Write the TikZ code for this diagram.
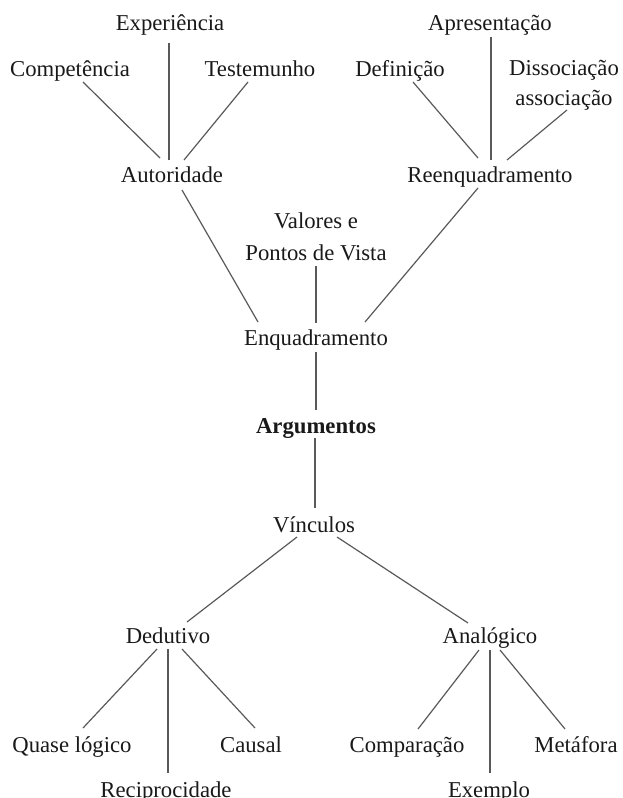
\documentclass[tikz,border=0pt]{standalone}
\usepackage{fontspec}
\setmainfont{Liberation Serif}
\begin{document}
\begin{tikzpicture}[x=1pt,y=-1pt,
  lbl/.style={anchor=base,inner sep=0pt,font=\fontsize{22.7}{31}\selectfont,text=black!90},
  ml/.style={lbl,align=center},
  conn/.style={draw=black!65,line width=1.2pt}]
\useasboundingbox (0,0) rectangle (622,798);
% top left
\node[lbl] (exp) at (170,30) {Experiência};
\node[lbl] (comp) at (70,76) {Competência};
\node[lbl] (test) at (260,76) {Testemunho};
\node[lbl] (aut) at (172,182) {Autoridade};
% top right
\node[lbl] (apr) at (490,30) {Apresentação};
\node[lbl] (def) at (400,76) {Definição};
\node[ml,font=\fontsize{22.7}{30}\selectfont] (dis) at (564,105) {Dissociação\\associação};
\node[lbl] (reen) at (490,182) {Reenquadramento};
% middle
\node[ml,font=\fontsize{22.7}{32}\selectfont] (val) at (316,260) {Valores e\\Pontos de Vista};
\node[lbl] (enq) at (316,345) {Enquadramento};
\node[lbl,font=\fontsize{22.7}{31}\selectfont\bfseries] (arg) at (316,433) {Argumentos};
\node[lbl] (vin) at (314,532) {Vínculos};
% bottom
\node[lbl] (ded) at (168,643) {Dedutivo};
\node[lbl] (ana) at (490,643) {Analógico};
\node[lbl] (qua) at (72,752) {Quase lógico};
\node[lbl] (cau) at (251,752) {Causal};
\node[lbl] (rec) at (166,797) {Reciprocidade};
\node[lbl] (com) at (407,752) {Comparação};
\node[lbl] (met) at (576,752) {Metáfora};
\node[lbl] (exe) at (489,797) {Exemplo};
% connectors
\draw[conn] ([shift={(13,6)}]comp.base) -- ([shift={(-12,-24)}]aut.base);
\draw[conn] ([shift={(-1,13)}]exp.base) -- ([shift={(-3,-22)}]aut.base);
\draw[conn] ([shift={(-12,6)}]test.base) -- ([shift={(12,-22)}]aut.base);
\draw[conn] ([shift={(13,6)}]def.base) -- ([shift={(-12,-24)}]reen.base);
\draw[conn] ([shift={(1,7)}]apr.base) -- ([shift={(1,-22)}]reen.base);
\draw[conn] ([shift={(3,5)}]dis.base) -- ([shift={(17,-22)}]reen.base);
\draw[conn] ([shift={(10,8)}]aut.base) -- ([shift={(-58,-23)}]enq.base);
\draw[conn] ([shift={(-12,6)}]reen.base) -- ([shift={(49,-23)}]enq.base);
\draw[conn] ([shift={(0,6)}]val.base) -- ([shift={(0,-22)}]enq.base);
\draw[conn] ([shift={(0,7)}]enq.base) -- ([shift={(0,-23)}]arg.base);
\draw[conn] ([shift={(-1,5)}]arg.base) -- ([shift={(1,-24)}]vin.base);
\draw[conn] ([shift={(-17,5)}]vin.base) -- ([shift={(19,-21)}]ded.base);
\draw[conn] ([shift={(23,5)}]vin.base) -- ([shift={(-22,-20)}]ana.base);
\draw[conn] ([shift={(-11,6)}]ded.base) -- ([shift={(11,-24)}]qua.base);
\draw[conn] ([shift={(0,6)}]ded.base) -- ([shift={(2,-24)}]rec.base);
\draw[conn] ([shift={(14,6)}]ded.base) -- ([shift={(4,-24)}]cau.base);
\draw[conn] ([shift={(-11,7)}]ana.base) -- ([shift={(11,-23)}]com.base);
\draw[conn] ([shift={(0,7)}]ana.base) -- ([shift={(1,-24)}]exe.base);
\draw[conn] ([shift={(10,7)}]ana.base) -- ([shift={(-11,-23)}]met.base);
\end{tikzpicture}
\end{document}
